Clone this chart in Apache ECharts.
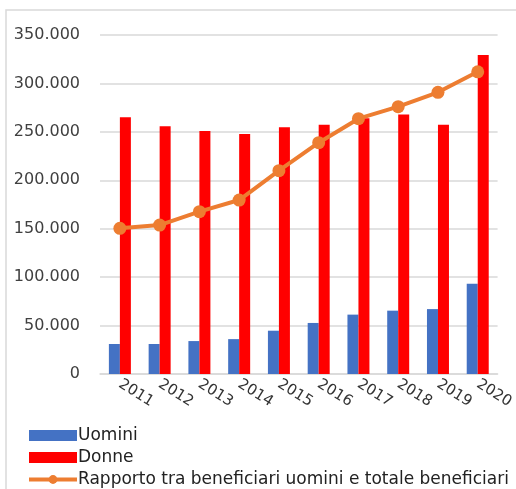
<!DOCTYPE html>
<html><head><meta charset="utf-8">
<script src="https://cdn.jsdelivr.net/npm/echarts@6/dist/echarts.min.js"></script>
<style>html,body{margin:0;padding:0;background:#fff}#c{width:516px;height:489px}</style>
</head><body><div id="c"></div>
<script>
const categories = ['2011','2012','2013','2014','2015','2016','2017','2018','2019','2020'];
const uomini = [31000, 31000, 34000, 36000, 44700, 52700, 61300, 65400, 67000, 93300];
const donne = [265000, 255700, 250900, 247800, 254700, 257400, 264000, 268000, 257400, 329300];
const rapporto = [150400, 153800, 167600, 179600, 209900, 238800, 263600, 276000, 290800, 312000];
const yTicks = [0, 50000, 100000, 150000, 200000, 250000, 300000, 350000];

const chart = echarts.init(document.getElementById('c'));
const fmt = v => v === 0 ? '0' : (v/1000).toFixed(0) + '.000';
chart.setOption({
  animation: false,
  textStyle: { fontFamily: 'DejaVu Sans' },
  graphic: [{ type: 'rect', shape: { x: 6, y: 10, width: 530, height: 500 }, style: { fill: 'none', stroke: '#d9d9d9', lineWidth: 1.5 } }],
  grid: { left: 100, right: 6, top: 35, bottom: 115, containLabel: false },
  xAxis: {
    type: 'category', data: categories,
    axisLine: { lineStyle: { color: '#d9d9d9', width: 1.5 } },
    axisTick: { show: false },
    axisLabel: { rotate: -32, color: '#333', fontSize: 15, margin: 9, interval: 0 }
  },
  yAxis: {
    type: 'value', min: 0, max: yTicks[yTicks.length-1], interval: 50000,
    axisLine: { show: false }, axisTick: { show: false },
    splitLine: { lineStyle: { color: '#d9d9d9', width: 1.5 } },
    axisLabel: { formatter: fmt, color: '#404040', fontSize: 16, margin: 20 }
  },
  legend: {
    orient: 'vertical', left: 27, top: 427, height: 120, padding: 0, itemGap: 5, itemWidth: 48, itemHeight: 11,
    textStyle: { color: '#222', fontSize: 17, padding: [0,0,0,-4] },
    data: [
      { name: 'Uomini', icon: 'rect' },
      { name: 'Donne', icon: 'rect' },
      { name: 'Rapporto tra beneficiari uomini e totale beneficiari', lineStyle: { width: 4 } }
    ]
  },
  series: [
    { name: 'Uomini', type: 'bar', data: uomini, barWidth: 11, barGap: '0%', itemStyle: { color: '#4472C4' } },
    { name: 'Donne', type: 'bar', data: donne, barWidth: 11, barGap: '0%', itemStyle: { color: '#FF0000' } },
    { name: 'Rapporto tra beneficiari uomini e totale beneficiari', type: 'line', data: rapporto,
      symbol: 'circle', symbolSize: 13, lineStyle: { color: '#ED7D31', width: 4 }, itemStyle: { color: '#ED7D31' } }
  ]
});
</script></body></html>
